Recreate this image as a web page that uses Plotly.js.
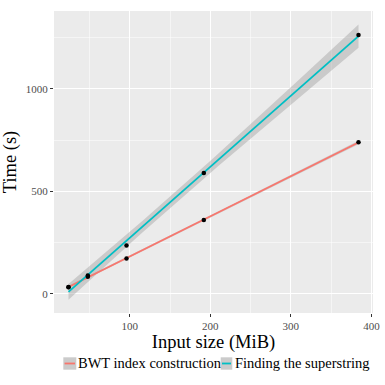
<!DOCTYPE html>
<html>
<head>
<meta charset="utf-8">
<script src="https://cdn.plot.ly/plotly-3.0.1.min.js"></script>
<style>
  html, body { margin: 0; padding: 0; background: #ffffff; }
  #chart { width: 385px; height: 385px; }
</style>
</head>
<body>
<div id="chart"></div>
<script>
const inputSizes = [24, 48, 96, 192, 384];
const bwtTimes = [34, 84, 173, 360, 740];
const superstringTimes = [33, 90, 236, 590, 1263];
const seriesNames = ['BWT index construction', 'Finding the superstring'];
const seriesColors = ['#F8766D', '#00BFC4'];

// t quantile (0.975) for 3 degrees of freedom, as geom_smooth(method = lm)
const tValue = 3.182446;

function linearFit(xs, ys) {
  const n = xs.length;
  const mx = xs.reduce((a, b) => a + b, 0) / n;
  const my = ys.reduce((a, b) => a + b, 0) / n;
  let sxx = 0;
  let sxy = 0;
  xs.forEach((x, i) => {
    sxx += (x - mx) * (x - mx);
    sxy += (x - mx) * (ys[i] - my);
  });
  const slope = sxy / sxx;
  const intercept = my - slope * mx;
  let sse = 0;
  xs.forEach((x, i) => {
    const r = ys[i] - (intercept + slope * x);
    sse += r * r;
  });
  const s = Math.sqrt(sse / (n - 2));
  return { n, mx, sxx, slope, intercept, s };
}

function smoothTraces(xs, ys, name, color) {
  const fit = linearFit(xs, ys);
  const lo = Math.min(...xs);
  const hi = Math.max(...xs);
  const gx = [];
  for (let i = 0; i <= 80; i++) gx.push(lo + (hi - lo) * i / 80);
  const fitted = gx.map((x) => fit.intercept + fit.slope * x);
  const half = gx.map((x) => tValue * fit.s * Math.sqrt(1 / fit.n + (x - fit.mx) ** 2 / fit.sxx));
  const upper = fitted.map((v, i) => v + half[i]);
  const lower = fitted.map((v, i) => v - half[i]);

  const band = {
    type: 'scatter',
    mode: 'lines',
    x: gx.concat(gx.slice().reverse()),
    y: upper.concat(lower.slice().reverse()),
    fill: 'toself',
    fillcolor: 'rgba(153,153,153,0.4)',
    line: { width: 0 },
    hoverinfo: 'skip',
    showlegend: false
  };
  const line = {
    type: 'scatter',
    mode: 'lines',
    name: name,
    x: gx,
    y: fitted,
    line: { color: color, width: 1.8 }
  };
  return [band, line];
}

const bwtSmooth = smoothTraces(inputSizes, bwtTimes, seriesNames[0], seriesColors[0]);
const superSmooth = smoothTraces(inputSizes, superstringTimes, seriesNames[1], seriesColors[1]);

const pointTraces = [bwtTimes, superstringTimes].map((ys) => ({
  type: 'scatter',
  mode: 'markers',
  x: inputSizes,
  y: ys,
  marker: { color: '#000000', size: 4.5 },
  showlegend: false
}));

const data = [bwtSmooth[0], superSmooth[0], bwtSmooth[1], superSmooth[1], ...pointTraces];

const serif = 'Liberation Serif, DejaVu Serif, serif';

// ggplot-style legend below the panel: grey key box with a coloured line, then the label
const legendKeys = [
  { x0: 0.0292, x1: 0.0699, textX: 0.0705 },
  { x0: 0.5226, x1: 0.5589, textX: 0.5600 }
];
const legendY0 = -0.1877;
const legendY1 = -0.1467;
const legendMid = (legendY0 + legendY1) / 2;

const legendShapes = [];
const legendTexts = [];
legendKeys.forEach((key, i) => {
  legendShapes.push({
    type: 'rect', xref: 'paper', yref: 'paper',
    x0: key.x0, x1: key.x1, y0: legendY0, y1: legendY1,
    fillcolor: '#CBCBCB', line: { width: 0 }
  });
  legendShapes.push({
    type: 'line', xref: 'paper', yref: 'paper',
    x0: key.x0 + 0.004, x1: key.x1 - 0.004, y0: legendMid, y1: legendMid,
    line: { color: seriesColors[i], width: 1.8 }
  });
  legendTexts.push({
    xref: 'paper', yref: 'paper',
    x: key.textX, y: legendMid,
    xanchor: 'left', yanchor: 'middle',
    showarrow: false,
    text: seriesNames[i],
    font: { size: 14.5, color: '#000000', family: serif }
  });
});

const layout = {
  width: 385,
  height: 385,
  margin: { l: 54, r: 12, t: 11, b: 72 },
  paper_bgcolor: '#ffffff',
  plot_bgcolor: '#EBEBEB',
  font: { family: serif },
  showlegend: false,
  shapes: legendShapes,
  annotations: legendTexts,
  xaxis: {
    range: [6, 402],
    tickvals: [100, 200, 300, 400],
    ticks: 'outside',
    ticklen: 3,
    tickcolor: '#333333',
    tickfont: { size: 11, color: '#4D4D4D', family: serif },
    showgrid: true,
    gridcolor: '#ffffff',
    gridwidth: 1.1,
    zeroline: false,
    showline: false,
    minor: { tickvals: [50, 150, 250, 350], showgrid: true, gridcolor: '#ffffff', gridwidth: 0.5, ticks: '' },
    title: { text: 'Input size (MiB)', font: { size: 18.5, color: '#000000', family: serif }, standoff: 3 }
  },
  yaxis: {
    range: [-93, 1380],
    tickvals: [0, 500, 1000],
    ticks: 'outside',
    ticklen: 3,
    tickcolor: '#333333',
    tickfont: { size: 11, color: '#4D4D4D', family: serif },
    showgrid: true,
    gridcolor: '#ffffff',
    gridwidth: 1.1,
    zeroline: false,
    showline: false,
    minor: { tickvals: [250, 750, 1250], showgrid: true, gridcolor: '#ffffff', gridwidth: 0.5, ticks: '' },
    title: { text: 'Time (s)', font: { size: 18.5, color: '#000000', family: serif }, standoff: 4 }
  }
};

Plotly.newPlot('chart', data, layout, { displayModeBar: false, staticPlot: true });
</script>
</body>
</html>
